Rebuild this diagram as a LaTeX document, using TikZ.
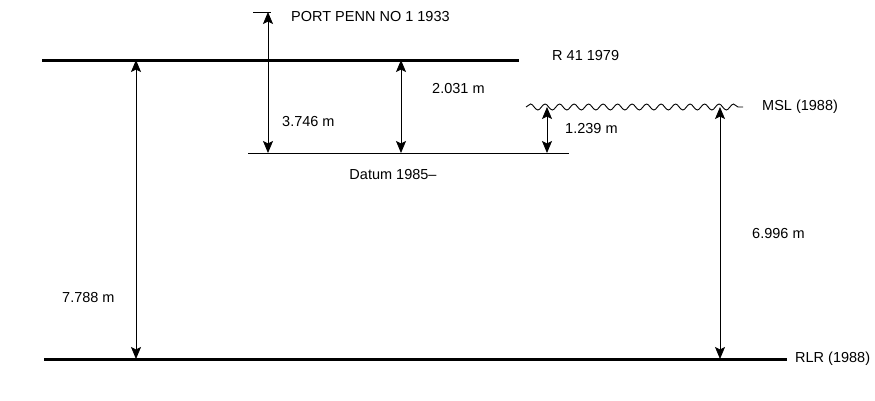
\documentclass[tikz,border=0pt]{standalone}
\usepackage{fontspec}
\setmainfont{Liberation Sans}
\usetikzlibrary{arrows.meta,decorations.pathmorphing}
\begin{document}
\begin{tikzpicture}[x=1pt,y=-1pt,
  lbl/.style={font=\fontsize{14.5}{17}\selectfont, inner sep=0pt},
  datumline/.style={line width=3pt},
  thinline/.style={line width=0.9pt},
  dim/.style={line width=0.8pt, {Stealth[length=12pt,width=10pt,inset=2.5pt]}-{Stealth[length=12pt,width=10pt,inset=2.5pt]}},
  wave/.style={line width=0.9pt, decorate, decoration={snake, segment length=14.5pt, amplitude=3pt}}]
\useasboundingbox (0,0) rectangle (875,400);
% levels
\coordinate (r41L) at (42,60);   \coordinate (r41R) at (519,60);
\coordinate (rlrL) at (44,359);  \coordinate (rlrR) at (787,359);
\coordinate (datL) at (248,153); \coordinate (datR) at (569,153);
\coordinate (ppL) at (253,12);   \coordinate (ppR) at (271,12);
\coordinate (mslL) at (526,107); \coordinate (mslR) at (743,107);
\draw[datumline] (r41L) -- (r41R);
\draw[datumline] (rlrL) -- (rlrR);
\draw[thinline] (datL) -- (datR);
\draw[thinline] (ppL) -- (ppR);
\draw[wave] (mslL) -- (mslR);
% labels
\node[lbl, anchor=west] (pp) at (291,17) {PORT PENN NO 1 1933};
\node[lbl, anchor=west] (r41) at (552,56) {R 41 1979};
\node[lbl, anchor=west] (msl) at (762,107) {MSL (1988)};
\node[lbl, anchor=west] (rlr) at (795,359) {RLR (1988)};
\node[lbl] (dat) at (393,175) {Datum 1985–};
% dimension arrows
\coordinate (a1t) at (268,12);  \coordinate (a1b) at (268,153);
\coordinate (a2t) at (401,60);  \coordinate (a2b) at (401,153);
\coordinate (a3t) at (547,107); \coordinate (a3b) at (547,153);
\coordinate (a4t) at (720,107); \coordinate (a4b) at (720,359);
\coordinate (a5t) at (136,60);  \coordinate (a5b) at (136,359);
\draw[dim] (a1t) -- (a1b);
\draw[dim] (a2t) -- (a2b);
\draw[dim] (a3t) -- (a3b);
\draw[dim] (a4t) -- (a4b);
\draw[dim] (a5t) -- (a5b);
\node[lbl, anchor=west] (d1) at (282,122) {3.746 m};
\node[lbl, anchor=west] (d2) at (432,89) {2.031 m};
\node[lbl, anchor=west] (d3) at (565,129) {1.239 m};
\node[lbl, anchor=west] (d4) at (752,234) {6.996 m};
\node[lbl, anchor=west] (d5) at (62,298) {7.788 m};
\end{tikzpicture}
\end{document}
